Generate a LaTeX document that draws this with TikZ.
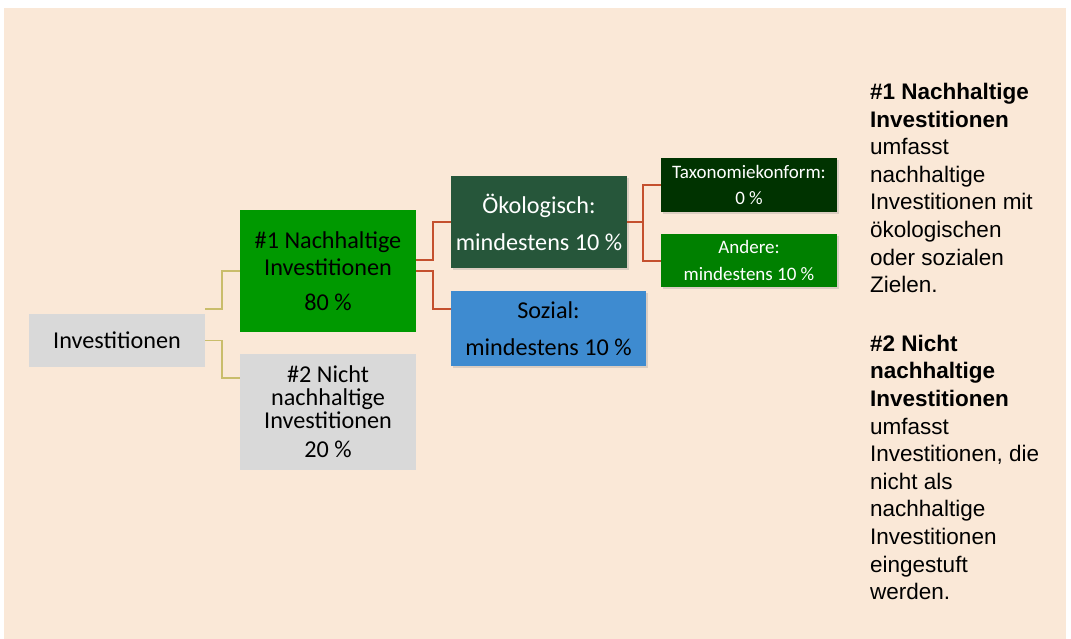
\documentclass[tikz,border=0pt]{standalone}
\usepackage{fontspec}
\setmainfont{Liberation Sans}
\newfontfamily\calfont{Carlito}
\usepackage{xcolor}
\usetikzlibrary{positioning,calc,shadows}

\definecolor{bgbeige}{RGB}{250,232,215}
\definecolor{boxgray}{RGB}{217,217,217}
\definecolor{nhgreen}{RGB}{0,153,0}
\definecolor{oekogreen}{RGB}{38,86,58}
\definecolor{sozblue}{RGB}{62,139,208}
\definecolor{taxgreen}{RGB}{0,51,0}
\definecolor{andgreen}{RGB}{0,128,0}
\definecolor{linkolive}{RGB}{201,189,107}
\definecolor{linkred}{RGB}{196,80,46}

\begin{document}
\begin{tikzpicture}[
  x=1pt, y=-1pt,
  box/.style={minimum width=176pt, inner sep=0pt, align=center,
    font=\calfont\fontsize{24.2}{27}\selectfont},
  smallbox/.style={box, font=\calfont\fontsize{19}{26.5}\selectfont},
  shad/.style={drop shadow={shadow xshift=2pt, shadow yshift=-2pt, opacity=.25}},
  oline/.style={draw=linkolive, line width=1.5pt},
  rline/.style={draw=linkred, line width=2pt}
]
  \useasboundingbox (0,0) rectangle (1071,639);
  \fill[bgbeige] (4,8) rectangle (1066,639);

  % tree
  \node[box, fill=boxgray, minimum height=53pt] (inv) at (117,340.5) {Investitionen};
  \node[box, fill=nhgreen, minimum height=122pt] (nh) at (328,271)
    {\#1 Nachhaltige\\Investitionen\\[8pt]80 \%};
  \node[box, fill=boxgray, minimum height=116pt,
    font=\calfont\fontsize{24.2}{23}\selectfont] (nnh) at (328,412)
    {\#2 Nicht\\nachhaltige\\Investitionen\\[6pt]20 \%};
  \node[box, shad, fill=oekogreen, text=white, minimum height=92pt,
    font=\calfont\fontsize{24.2}{37}\selectfont] (oeko) at (539,222)
    {Ökologisch:\\mindestens 10 \%};
  \node[box, shad, fill=sozblue, minimum width=195pt, minimum height=75pt,
    font=\calfont\fontsize{24.2}{37}\selectfont] (sozial) at (548.5,328.5)
    {Sozial:\\mindestens 10 \%};
  \node[smallbox, shad, fill=taxgreen, text=white, minimum height=54pt] (taxo) at (749,185)
    {Taxonomiekonform:\\0 \%};
  \node[smallbox, shad, fill=andgreen, text=white, minimum height=53pt] (andere) at (749,260.5)
    {Andere:\\mindestens 10 \%};

  \draw[oline] ($(inv.north east)+(0,-5)$) -- ++(17,0) |- (nh.west);
  \draw[oline] (inv.east) -- ++(17,0) |- ($(nnh.north west)+(0,24)$);
  \draw[rline] ($(nh.east)+(0,-11)$) -- ++(17,0) |- (oeko.west);
  \draw[rline] (nh.east) -- ++(17,0) |- ($(sozial.west)+(0,-19.5)$);
  \draw[rline] (oeko.east) -- ++(16,0) coordinate (split) |- (taxo.west);
  \draw[rline] (split) |- (andere.west);

  % legend
  \node[anchor=north west, inner sep=0pt, align=left,
    font=\fontsize{22.5}{27.6}\selectfont] (legend) at (870,83)
    {\textbf{\#1 Nachhaltige}\\\textbf{Investitionen}\\umfasst\\nachhaltige\\
     Investitionen mit\\ökologischen\\oder sozialen\\Zielen.\\[31pt]
     \textbf{\#2 Nicht}\\\textbf{nachhaltige}\\\textbf{Investitionen}\\umfasst\\
     Investitionen, die\\nicht als\\nachhaltige\\Investitionen\\eingestuft\\werden.};
\end{tikzpicture}
\end{document}
